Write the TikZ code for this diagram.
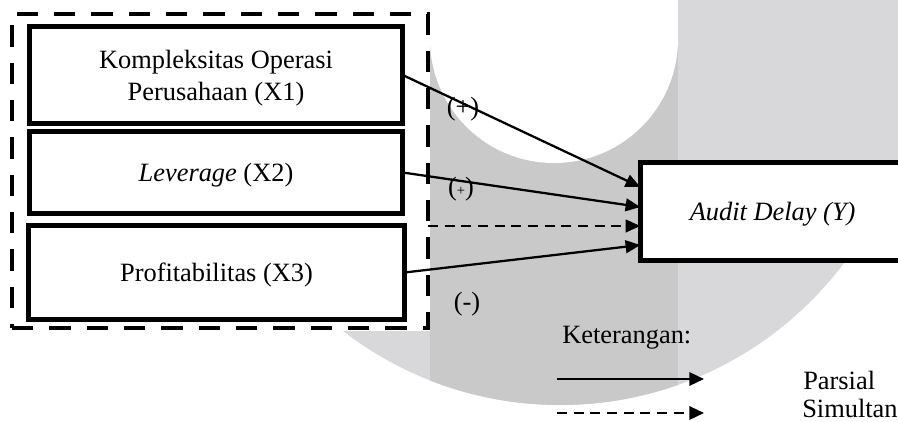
\documentclass[tikz,border=0pt]{standalone}
\usepackage{fontspec}
\setmainfont{Liberation Serif}
\usetikzlibrary{arrows.meta,calc}
\definecolor{wmlight}{RGB}{216,216,218}
\definecolor{wmdark}{RGB}{201,201,201}
\begin{document}
\begin{tikzpicture}[x=0.75pt,y=-0.75pt,
  txt/.style={font=\fontsize{19.8}{24}\selectfont},
  box/.style={txt,draw=black,line width=3.4pt,fill=white,align=center,
    inner sep=0pt,outer sep=0pt,text height=15.2pt,text depth=1pt},
  grpbox/.style={draw=black,line width=3.4pt,dash pattern=on 16pt off 12pt,
    inner sep=0pt,outer sep=0pt,minimum width=312pt,minimum height=235.5pt},
  conn/.style={line width=1.7pt,-{Triangle[length=11pt,width=9.5pt]}},
  sim/.style={conn,dash pattern=on 7.5pt off 5pt},
  legconn/.style={line width=1.7pt,-{Triangle[length=11pt,width=10pt]}},
  legsim/.style={legconn,dash pattern=on 7.5pt off 5pt},
  lbl/.style={txt,inner sep=0pt,anchor=base}
]
\useasboundingbox (0,0) rectangle (898,421);
% watermark
\fill[wmlight] (560,50) circle[radius=266.25pt];
\begin{scope}
  \clip (560,50) circle[radius=266.25pt];
  \fill[wmdark] (430,-20) rectangle (678,440);
\end{scope}
\fill[white] (554,39) circle[radius=93pt];
\fill[white] (430,-20) rectangle (678,39);
\fill[white] (-5,-5) rectangle (430,331);
% group
\node[grpbox] (grp) at (220,171) {};
% boxes
\node[box,minimum width=280pt,minimum height=72.75pt,text height=38pt,text depth=0.5pt] (x1) at (216,75) {Kompleksitas Operasi\\Perusahaan (X1)};
\node[box,minimum width=280pt,minimum height=61.5pt] (x2) at (216,172.5) {\textit{Leverage} (X2)};
\node[box,minimum width=282pt,minimum height=70.5pt] (x3) at (216.5,272.5) {Profitabilitas (X3)};
\node[box,minimum width=198.5pt,minimum height=73.8pt] (ad) at (772.6,211.5) {\textit{Audit Delay (Y)}};
% connectors
\draw[conn] (x1.east) -- ($(ad.west)+(0,-24.5)$);
\draw[conn] (x2.east) -- ($(ad.west)+(0,-4.5)$);
\draw[sim] ($(grp.east)+(0,55)$) -- ($(ad.west)+(0,14.5)$);
\draw[conn] (x3.east) -- ($(ad.west)+(0,33.5)$);
% labels
\node[lbl] (p1) at (463,115) {(+)};
\node[lbl] (p2) at (461,195) {({\fontsize{11}{11}\selectfont +})};
\node[lbl] (m3) at (467,310) {(-)};
% legend
\node[lbl,anchor=base west] (ket) at (562,343) {Keterangan:};
\coordinate (ls1) at (557,379);
\coordinate (le1) at (704,379);
\coordinate (ls2) at (557,413);
\coordinate (le2) at (704,413);
\draw[legconn] (ls1) -- (le1);
\draw[legsim] (ls2) -- (le2);
\node[lbl,anchor=base west] (par) at (803,389) {Parsial};
\node[lbl,anchor=base west] (simu) at (802,417) {Simultan};
\end{tikzpicture}
\end{document}
